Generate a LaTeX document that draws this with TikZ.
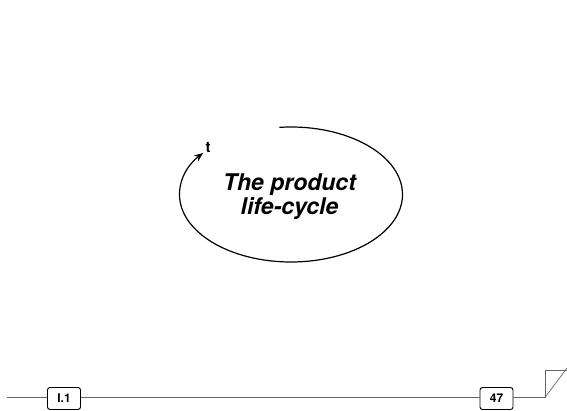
\documentclass[tikz,border=0pt]{standalone}
\usepackage{fontspec}
\setmainfont{TeX Gyre Heros}
\usetikzlibrary{arrows.meta,calc}
\begin{document}
\begin{tikzpicture}[x=1pt,y=-1pt,
  tag/.style={draw=black,line width=0.9pt,rounded corners=2.5pt,minimum width=33pt,minimum height=22pt,inner sep=0pt,font=\bfseries\fontsize{12}{14}\selectfont,fill=white},
  rule/.style={draw=black!60,line width=1pt}]
\useasboundingbox (0,0) rectangle (567,411);
% cycle arc
\coordinate (c) at (291,194.5);
\draw[line width=1.2pt,-{Stealth[length=9pt,width=7pt]}] ($(c)+(-96:111.5 and 67.5)$) arc[start angle=-96,end angle=218,x radius=111.5,y radius=67.5];
\node[font=\bfseries\fontsize{15}{17}\selectfont] (t) at (208,147) {t};
\node[align=center,font=\bfseries\itshape\fontsize{23}{24}\selectfont] (title) at (289.5,197) {The product\\life-cycle};
% bottom rule
\coordinate (l0) at (7,397.5);
\node[tag] (b1) at (64,398.5) {I.1};
\node[tag] (b2) at (496.5,398.5) {47};
\coordinate (cr) at (545,397.5);
\coordinate (ct) at (545,370);
\coordinate (ce) at (567,370);
\coordinate (cd) at (567,368);
\draw[rule] (l0) -- (b1.west |- l0);
\draw[rule] (b1.east |- l0) -- (b2.west |- l0);
\draw[rule] (b2.east |- l0) -- (cr) -- (ct) -- (ce);
\draw[draw=black!60,line width=0.7pt] (cr) -- (cd);
\end{tikzpicture}
\end{document}
